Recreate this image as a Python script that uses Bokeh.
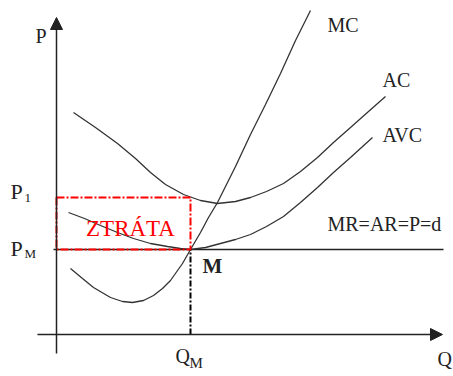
from bokeh.plotting import figure
from bokeh.models import Range1d, Arrow, NormalHead
from bokeh.core.properties import value
from bokeh.embed import file_html
from bokeh.resources import INLINE

# ---- data (Q units, P units) ----
q_mc = [14, 26, 37, 54, 66, 76, 87, 97, 106, 114, 126, 134, 144, 152, 161, 179, 194, 209, 224, 239, 254]
p_mc = [66, 56, 47, 37, 33, 32, 34, 39, 46, 54, 71, 85, 102, 117, 132, 168, 200, 230, 261, 294, 324]

q_ac = [17, 39, 61, 79, 94, 109, 127, 144, 161, 179, 194, 210, 227, 244, 261, 277, 294, 312, 329]
p_ac = [222, 207, 191, 176, 162, 150, 140, 134, 131, 133, 137, 143, 151, 163, 177, 192, 207, 223, 238]

q_avc = [12, 28, 44, 61, 77, 94, 111, 124, 134, 149, 164, 179, 194, 210, 227, 244, 261, 277, 294, 316]
p_avc = [122, 116, 109, 102, 96, 91, 88, 86, 85, 87, 91, 95, 100, 108, 118, 132, 147, 162, 177, 197]

QM = 134
PM = 85
P1 = 137
MR_END = 387
Q_AXIS_END = 386
P_AXIS_END = 317
AXIS_START = -19

FONT = value("Liberation Serif")
INK = "#222222"

p = figure(width=453, height=376, output_backend="svg", toolbar_location=None,
           x_range=Range1d(-56, 397), y_range=Range1d(-42, 334), min_border=0)
p.axis.visible = False
p.grid.visible = False
p.outline_line_color = None
p.background_fill_color = "white"

# axes with arrows
p.add_layout(Arrow(end=NormalHead(size=12, fill_color=INK, line_color=INK),
                   x_start=0, y_start=AXIS_START, x_end=0, y_end=P_AXIS_END,
                   line_color=INK, line_width=1.5))
p.add_layout(Arrow(end=NormalHead(size=12, fill_color=INK, line_color=INK),
                   x_start=AXIS_START, y_start=0, x_end=Q_AXIS_END, y_end=0,
                   line_color=INK, line_width=1.5))

# MR = AR = P = d
p.line([-3, MR_END], [PM, PM], line_color=INK, line_width=1.5)

# cost curves
p.line(q_mc, p_mc, line_color="#333333", line_width=1.3)
p.line(q_ac, p_ac, line_color="#333333", line_width=1.3)
p.line(q_avc, p_avc, line_color="#333333", line_width=1.3)

# QM dashed vertical
p.line([QM, QM], [0, PM], line_color="black", line_width=2, line_dash="6 2 2 2")

# loss rectangle
p.quad(left=[0], right=[QM], bottom=[PM], top=[P1], fill_color=None,
       line_color="red", line_width=2, line_dash="8 2 2 2")

# texts
p.text(x=[-21], y=[299], text=["P"], text_font=FONT, text_font_size="20px",
       text_color=INK, text_baseline="alphabetic", text_align="left")
p.text(x=[-46, -46], y=[143, 86], text=["P", "P"], text_font=FONT, text_font_size="22px",
       text_color=INK, text_baseline="alphabetic", text_align="left")
p.text(x=[-32, -32], y=[137, 81], text=["1", "M"], text_font=FONT, text_font_size="13px",
       text_color=INK, text_baseline="alphabetic", text_align="left")
p.text(x=[119, 381], y=[-21, -24], text=["Q", "Q"], text_font=FONT, text_font_size="20px",
       text_color=INK, text_baseline="alphabetic", text_align="left")
p.text(x=[133], y=[-28], text=["M"], text_font=FONT, text_font_size="15px",
       text_color=INK, text_baseline="alphabetic", text_align="left")
p.text(x=[146], y=[69], text=["M"], text_font=FONT, text_font_size="21px",
       text_font_style="bold", text_color=INK, text_baseline="alphabetic", text_align="left")
p.text(x=[271, 326, 326, 271], y=[310, 255, 200, 111],
       text=["MC", "AC", "AVC", "MR=AR=P=d"], text_font=FONT, text_font_size="20px",
       text_color=INK, text_baseline="alphabetic", text_align="left")
p.text(x=[74], y=[106], text=["ZTRÁTA"], text_font=FONT, text_font_size="23px",
       text_color="red", text_baseline="alphabetic", text_align="center")

open("out.html", "w").write(file_html(p, INLINE))
